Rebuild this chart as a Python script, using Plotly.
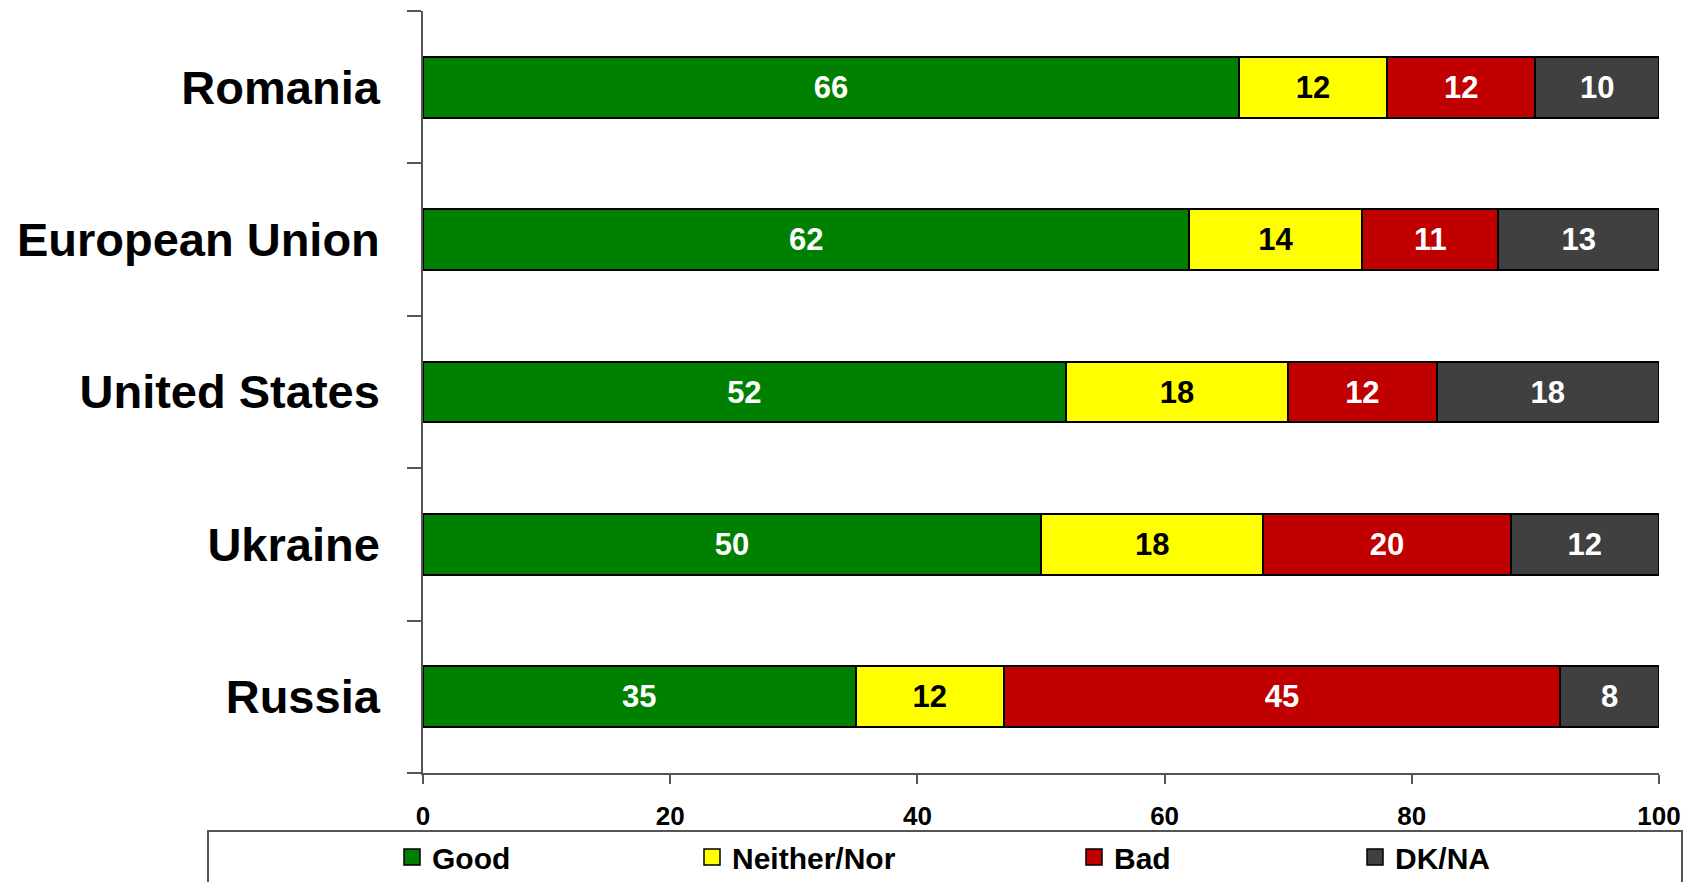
import plotly.graph_objects as go

categories = ["Romania", "European Union", "United States", "Ukraine", "Russia"]
good = [66, 62, 52, 50, 35]
neither = [12, 14, 18, 18, 12]
bad = [12, 11, 12, 20, 45]
dkna = [10, 13, 18, 12, 8]
x_ticks = [0, 20, 40, 60, 80, 100]

series = [
    ("Good", good, "#008000", "white", "legend"),
    ("Neither/Nor", neither, "#FFFF00", "black", "legend2"),
    ("Bad", bad, "#C00000", "white", "legend3"),
    ("DK/NA", dkna, "#404040", "white", "legend4"),
]

FONT = "Liberation Sans, Arial, sans-serif"
OFF = 8  # page body margin
W, H = 1692 - OFF, 882 - OFF
# plot area in page coordinates
PL, PR, PT, PB = 423, 1659, 11, 773
L, T = PL - OFF, PT - OFF
R, B = W - (PR - OFF), H - (PB - OFF)
pw, ph = PR - PL, PB - PT

def px_x(p):
    return (p - PL) / pw

def px_y(p):
    return (PB - p) / ph

fig = go.Figure()
for name, vals, col, tcol, lg in series:
    fig.add_trace(go.Bar(
        y=categories, x=vals, name=name, orientation="h",
        marker=dict(color=col, line=dict(color="black", width=2)),
        text=vals, texttemplate="%{x}", textposition="inside",
        insidetextanchor="middle", textangle=0, constraintext="none",
        textfont=dict(family=FONT, size=31, color=tcol, weight="bold"),
        showlegend=False,
    ))
# legend entries (larger square swatches)
for name, vals, col, tcol, lg in series:
    fig.add_trace(go.Scatter(
        x=[None], y=[None], mode="markers", name=name, legend=lg,
        marker=dict(symbol="square", size=16, color=col,
                    line=dict(color="black", width=1.5)),
        showlegend=True,
    ))

legend_text_x = [432, 732, 1114, 1395]
legends = {}
for i, tx in enumerate(legend_text_x):
    key = "legend" if i == 0 else f"legend{i+1}"
    legends[key] = dict(
        x=px_x(tx - 40), xanchor="left", y=px_y(857), yanchor="middle",
        orientation="h", bgcolor="rgba(0,0,0,0)", borderwidth=0,
        font=dict(family=FONT, size=30, color="black", weight="bold"),
        itemwidth=30, tracegroupgap=0,
    )

fig.update_layout(
    width=W, height=H, barmode="stack", bargap=0.6,
    margin=dict(l=L, r=R, t=T, b=B, pad=0, autoexpand=False),
    plot_bgcolor="white", paper_bgcolor="white",
    showlegend=True,
    xaxis=dict(range=[0, 100], tickvals=x_ticks, ticks="outside", ticklen=9,
               tickcolor="#555555", tickwidth=1.5, showline=True,
               linecolor="#555555", linewidth=1.5, showgrid=False, zeroline=False,
               tickfont=dict(family=FONT, size=26, color="black", weight="bold"),
               ticklabelstandoff=10),
    yaxis=dict(categoryorder="array", categoryarray=categories[::-1],
               tickson="boundaries", ticks="outside", ticklen=14,
               tickcolor="#555555", tickwidth=1.5, showline=True,
               linecolor="#555555", linewidth=1.5, showgrid=False,
               tickfont=dict(family=FONT, size=47, color="black", weight="bold"),
               ticklabelstandoff=32),
    shapes=[dict(type="rect", xref="paper", yref="paper",
                 x0=px_x(208), x1=px_x(1682), y0=px_y(831), y1=px_y(900),
                 line=dict(color="#555555", width=2), fillcolor="rgba(0,0,0,0)")],
    **legends,
)

fig.write_html("out.html")
